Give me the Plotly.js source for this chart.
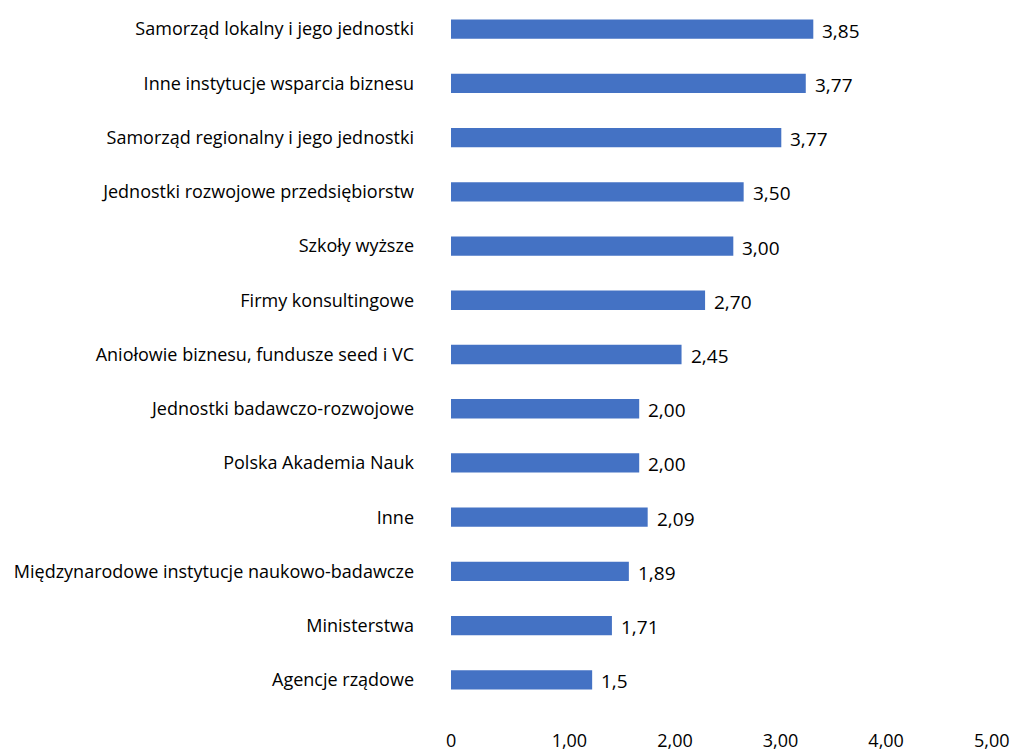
<!DOCTYPE html>
<html>
<head>
<meta charset="utf-8">
<script src="https://cdn.plot.ly/plotly-3.0.1.min.js"></script>
<style>html,body{margin:0;padding:0;background:#fff;}#chart{width:1015px;height:751px;}</style>
</head>
<body>
<div id="chart"></div>
<script>
const categories = [
  "Samorząd lokalny i jego jednostki",
  "Inne instytucje wsparcia biznesu",
  "Samorząd regionalny i jego jednostki",
  "Jednostki rozwojowe przedsiębiorstw",
  "Szkoły wyższe",
  "Firmy konsultingowe",
  "Aniołowie biznesu, fundusze seed i VC",
  "Jednostki badawczo-rozwojowe",
  "Polska Akademia Nauk",
  "Inne",
  "Międzynarodowe instytucje naukowo-badawcze",
  "Ministerstwa",
  "Agencje rządowe"
];
// bar lengths as drawn in the picture
const values = [3.85, 3.77, 3.51, 3.11, 3.00, 2.70, 2.45, 2.00, 2.00, 2.09, 1.89, 1.71, 1.5];
// value labels as printed in the picture
const valueLabels = ["3,85", "3,77", "3,77", "3,50", "3,00", "2,70", "2,45", "2,00", "2,00", "2,09", "1,89", "1,71", "1,5"];
// axis tick labels (printed on their own, wider-spaced scale in the picture)
const tickValues = [0, 1, 2, 3, 4, 5];
const tickLabels = ["0", "1,00", "2,00", "3,00", "4,00", "5,00"];

const FONT = "Open Sans, sans-serif";

const barTrace = {
  type: "bar",
  orientation: "h",
  x: values,
  y: categories,
  marker: { color: "#4472C4" },
  hoverinfo: "none"
};

// carrier for the separate tick-label axis (draws nothing itself)
const axisTrace = {
  type: "scatter",
  mode: "none",
  x: tickValues,
  y: tickValues.map(() => categories[0]),
  xaxis: "x2",
  yaxis: "y",
  hoverinfo: "skip",
  showlegend: false
};

const annotations = categories.map((c, i) => ({
  x: values[i], y: c, xref: "x", yref: "y",
  text: valueLabels[i], showarrow: false,
  xanchor: "left", yanchor: "middle", xshift: 7, yshift: -1.5,
  font: { family: FONT, size: 19, color: "#000" }
}));

const layout = {
  width: 1015, height: 751,
  margin: { l: 451, r: 15, t: 2, b: 44 },
  paper_bgcolor: "#fff", plot_bgcolor: "#fff",
  showlegend: false,
  bargap: 0.644,
  font: { family: FONT, size: 18, color: "#000" },
  xaxis: {
    range: [0, 5.834], showgrid: false, zeroline: false, showline: false,
    showticklabels: false, ticks: ""
  },
  xaxis2: {
    overlaying: "x", anchor: "y", side: "bottom",
    range: [-0.01, 5.19], showgrid: false, zeroline: false, showline: false,
    tickmode: "array", tickvals: tickValues, ticktext: tickLabels, ticks: "",
    ticklabelposition: "outside right", ticklabelshift: -6, ticklabelstandoff: 21,
    tickfont: { family: FONT, size: 18, color: "#000" }
  },
  yaxis: {
    type: "category",
    range: [categories.length - 0.5, -0.5],
    showgrid: false, zeroline: false, showline: false,
    ticks: "", ticklabelstandoff: 36,
    tickfont: { family: FONT, size: 18, color: "#000" }
  },
  annotations: annotations
};

Plotly.newPlot("chart", [barTrace, axisTrace], layout, { displayModeBar: false, staticPlot: true });
</script>
</body>
</html>
